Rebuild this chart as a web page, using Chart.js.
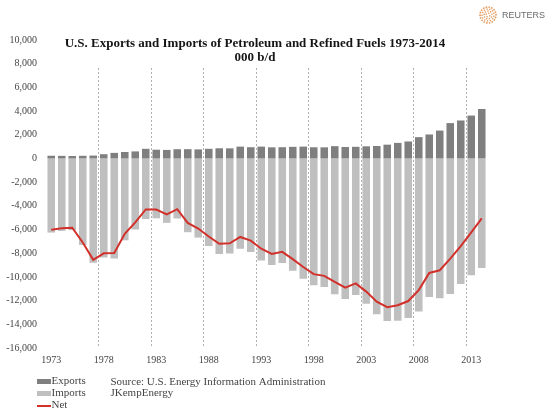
<!DOCTYPE html>
<html>
<head>
<meta charset="utf-8">
<script src="https://cdn.jsdelivr.net/npm/chart.js@4.4.1/dist/chart.umd.min.js"></script>
<style>
html,body{margin:0;padding:0;background:#fff;}
#wrap{position:relative;width:553px;height:415px;}
</style>
</head>
<body>
<div id="wrap"><canvas id="c"></canvas></div>
<script>
const years = ['1973','1974','1975','1976','1977','1978','1979','1980','1981','1982',
  '1983','1984','1985','1986','1987','1988','1989','1990','1991','1992',
  '1993','1994','1995','1996','1997','1998','1999','2000','2001','2002',
  '2003','2004','2005','2006','2007','2008','2009','2010','2011','2012',
  '2013','2014'];
const exportsKbd = [230,220,210,225,245,360,470,545,595,815,
  740,720,780,785,765,815,860,855,1000,950,
  1000,940,950,980,1000,945,940,1040,970,985,
  1025,1050,1165,1315,1435,1800,2025,2355,2985,3205,
  3620,4175];
const importsKbd = [-6255,-6110,-6055,-7315,-8805,-8365,-8455,-6910,-5995,-5115,
  -5050,-5435,-5065,-6225,-6680,-7400,-8060,-8020,-7625,-7890,
  -8620,-8995,-8835,-9480,-10160,-10710,-10850,-11460,-11870,-11530,
  -12265,-13145,-13715,-13705,-13470,-12915,-11690,-11795,-11435,-10600,
  -9860,-9240];
const netKbd = [-6025,-5890,-5845,-7090,-8560,-8005,-7985,-6365,-5400,-4300,
  -4310,-4715,-4285,-5440,-5915,-6585,-7200,-7165,-6625,-6940,
  -7620,-8055,-7885,-8500,-9160,-9765,-9910,-10420,-10900,-10545,
  -11240,-12095,-12550,-12390,-12035,-11115,-9665,-9440,-8450,-7395,
  -6240,-5065];
const yTickMin = -16000, yTickMax = 10000, yTickStep = 2000;
const titleLines = ['U.S. Exports and Imports of Petroleum and Refined Fuels 1973-2014', '000 b/d'];
const sourceLines = ['Source: U.S. Energy Information Administration', 'JKempEnergy'];

const SERIF = "'Liberation Serif', 'Times New Roman', serif";
const COL_EXP = '#7f7f7f', COL_IMP = '#bfbfbf', COL_NET = '#d2302a';

const decor = {
  id: 'decor',
  afterDraw(chart) {
    const ctx = chart.ctx;
    const ca = chart.chartArea;
    ctx.save();
    // title box (covers top of gridlines, like the original)
    ctx.fillStyle = '#fff';
    ctx.fillRect(ca.left + 1, 33, ca.right - ca.left - 1, 33);
    ctx.fillStyle = '#151515';
    ctx.font = 'bold 13px ' + SERIF;
    ctx.textAlign = 'center';
    ctx.textBaseline = 'middle';
    const cx = 255;
    ctx.fillText(titleLines[0], cx, 44);
    ctx.fillText(titleLines[1], cx, 57.5);

    // legend
    ctx.textAlign = 'left';
    ctx.font = '11px ' + SERIF;
    ctx.fillStyle = COL_EXP;
    ctx.fillRect(37, 379, 14, 5);
    ctx.fillStyle = COL_IMP;
    ctx.fillRect(37, 391, 14, 5);
    ctx.strokeStyle = COL_NET;
    ctx.lineWidth = 2;
    ctx.beginPath(); ctx.moveTo(37, 406); ctx.lineTo(51, 406); ctx.stroke();
    ctx.fillStyle = '#444';
    ctx.fillText('Exports', 51.5, 381.5);
    ctx.fillText('Imports', 51.5, 393.5);
    ctx.fillText('Net', 51.5, 405.5);
    ctx.fillText(sourceLines[0], 110.5, 382);
    ctx.fillText(sourceLines[1], 110.5, 393.5);

    // Reuters mark
    const rx = 488, ry = 15;
    ctx.fillStyle = '#e59a5c';
    for (let r = 2; r <= 8; r += 2) {
      const n = Math.max(4, Math.round(r * 2.2));
      for (let k = 0; k < n; k++) {
        const a = (k / n) * Math.PI * 2 + r;
        ctx.beginPath();
        ctx.arc(rx + Math.cos(a) * r, ry + Math.sin(a) * r, r === 8 ? 0.9 : 0.8, 0, Math.PI * 2);
        ctx.fill();
      }
    }
    ctx.fillStyle = '#6a6a6a';
    ctx.font = "9px 'Liberation Sans Narrow', 'Liberation Sans', Arial, sans-serif";
    ctx.textBaseline = 'middle';
    ctx.fillText('REUTERS', 502, 16);
    ctx.restore();
  }
};

new Chart(document.getElementById('c'), {
  type: 'bar',
  data: {
    labels: years,
    datasets: [
      { type: 'line', label: 'Net', data: netKbd, borderColor: COL_NET, backgroundColor: COL_NET,
        borderWidth: 2, pointRadius: 0, tension: 0, stack: 'net', order: 0 },
      { label: 'Exports', data: exportsKbd, backgroundColor: COL_EXP, stack: 'trade',
        categoryPercentage: 1, barPercentage: 0.72, order: 1 },
      { label: 'Imports', data: importsKbd, backgroundColor: COL_IMP, stack: 'trade',
        categoryPercentage: 1, barPercentage: 0.72, order: 1 }
    ]
  },
  options: {
    responsive: true,
    maintainAspectRatio: false,
    animation: false,
    layout: { padding: { left: 0, right: 66, top: 40, bottom: 0 } },
    plugins: { legend: { display: false }, tooltip: { enabled: false }, title: { display: false } },
    scales: {
      x: {
        stacked: true,
        offset: true,
        grid: {
          offset: true,
          drawTicks: false,
          lineWidth: 1,
          color: (c) => (c.index > 0 && c.index % 5 === 0) ? '#b0b0b0' : 'rgba(0,0,0,0)'
        },
        border: { display: false, dash: [2, 2] },
        ticks: {
          autoSkip: false, maxRotation: 0, minRotation: 0, padding: 6,
          color: '#444', font: { family: SERIF, size: 10 },
          callback: (v, i) => (i % 5 === 0 ? years[i] : '')
        },
        afterFit: (s) => { s.height = 67; }
      },
      y: {
        stacked: true,
        min: yTickMin, max: yTickMax,
        grid: { display: false, drawTicks: false },
        border: { display: false },
        ticks: {
          stepSize: yTickStep, padding: 9, color: '#444',
          font: { family: SERIF, size: 10 },
          callback: (v) => v.toLocaleString('en-US')
        },
        afterFit: (s) => { s.width = 46; }
      }
    }
  },
  plugins: [decor]
});
</script>
</body>
</html>
